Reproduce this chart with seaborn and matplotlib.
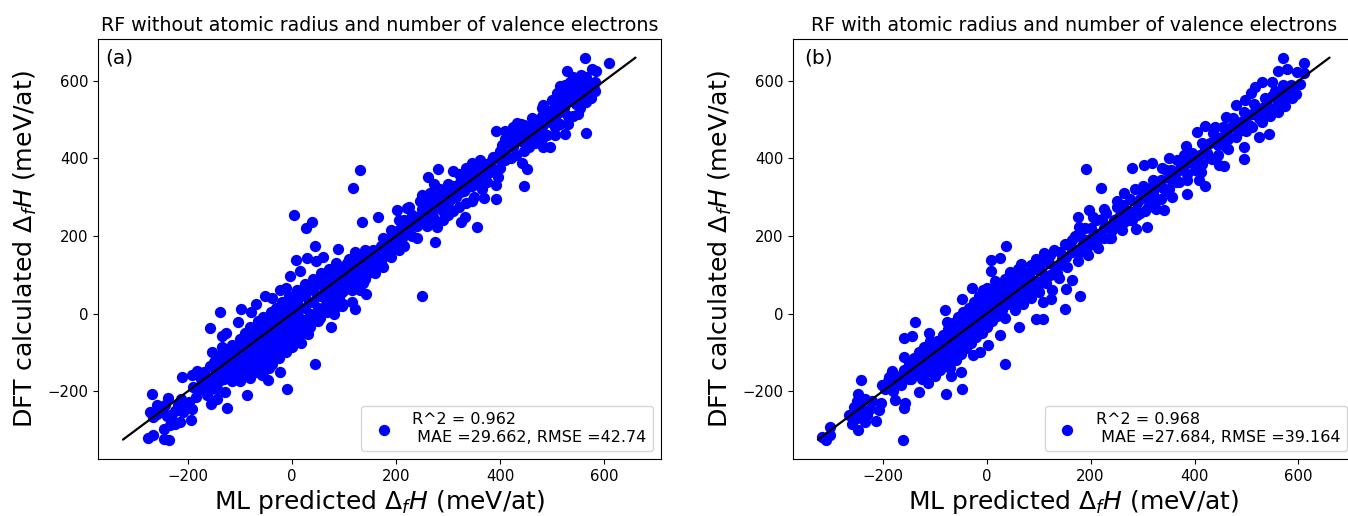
import matplotlib
matplotlib.use("Agg")
import matplotlib.pyplot as plt
import pandas as pd
import seaborn as sns

# (ML predicted, DFT calculated), meV/at
outliers_a = [
    (130, 371), (118, 324), (4, 253), (27, 221), (38, 235), (134, 237), (166, 248), (44, 175),
    (89, 166), (8, 138), (29, 144), (46, 136), (60, 147), (-4, 97), (15, 110), (-23, 61),
    (-12, 67), (-52, 45), (-39, 39), (-69, 24), (-78, 3), (-99, 11), (-138, 3), (-103, -23),
    (-158, -37), (-127, -50), (-135, -58), (-154, -98), (-134, -85), (-158, -134), (-212, -163),
    (-193, -158), (-183, -148), (-269, -207), (-238, -217), (-214, -220), (-260, -235),
    (-199, -229), (-193, -247), (-273, -253), (-267, -266), (-195, -274), (-215, -279),
    (-235, -261), (-246, -298), (-276, -322), (-267, -313), (-247, -323), (-236, -327),
    (-235, -287), (-174, -194), (-164, -211), (-155, -233), (-144, -221), (-126, -243),
    (-129, -201), (-86, -209), (-9, -194), (44, -129), (-46, -171), (-24, -151), (-58, -158),
    (-81, -167), (-100, -175), (-116, -175), (-131, -163), (-148, -171), (-29, -107), (-1, -85),
    (18, -75), (31, -53), (74, -35), (54, -12), (67, 7), (120, 11), (95, 20), (115, 31),
    (142, 50), (141, 89), (115, 61),
    (562, 659), (610, 645), (528, 626), (576, 630), (585, 626), (564, 466), (392, 470),
    (446, 329), (451, 372), (442, 387), (355, 224), (275, 185), (281, 374), (309, 367),
    (262, 353), (391, 295), (368, 297), (345, 291), (324, 237), (333, 250), (278, 224),
    (391, 331), (396, 353), (496, 430), (483, 430), (467, 439), (525, 464), (506, 460),
    (583, 573), (554, 530), (570, 593), (583, 598), (535, 598), (515, 587), (483, 537),
    (432, 492), (425, 482), (445, 486), (461, 505), (403, 434), (387, 404), (345, 387),
    (362, 396), (330, 355), (249, 306), (272, 334), (201, 267), (220, 271), (250, 45),
]
core_a = [
    (-190, -190), (-185, -215), (-175, -170), (-170, -150), (-160, -180), (-150, -125), (-150, -160),
    (-145, -195), (-140, -110), (-135, -140), (-130, -170), (-125, -95), (-125, -125), (-120, -150),
    (-115, -80), (-110, -110), (-110, -140), (-105, -170), (-100, -65), (-100, -95), (-100, -125),
    (-95, -150), (-90, -50), (-90, -80), (-85, -110), (-85, -135), (-80, -35), (-80, -65), (-75, -95),
    (-75, -125), (-70, -150), (-65, -20), (-65, -50), (-65, -80), (-60, -110), (-60, -135), (-55, -10),
    (-55, -40), (-50, -70), (-50, -95), (-45, -120), (-45, -140), (-40, 5), (-40, -25), (-40, -55),
    (-35, -80), (-35, -105), (-30, 15), (-30, -15), (-25, -45), (-25, -70), (-20, -95), (-20, 30),
    (-15, 0), (-15, -30), (-10, -60), (-10, -80), (-5, 45), (0, 15), (0, -15), (0, -45), (5, -65),
    (10, 60), (10, 30), (10, 0), (15, -30), (20, -50), (25, 75), (25, 45), (25, 15), (30, -15),
    (35, -35), (40, 90), (40, 60), (40, 30), (45, 0), (50, -20), (55, 105), (55, 75), (55, 45),
    (60, 15), (70, 115), (70, 85), (70, 55), (75, 25), (80, 0), (85, 130), (85, 100), (85, 70),
    (90, 40), (100, 120), (100, 90), (100, 60), (110, 140), (110, 105), (115, 75), (125, 150),
    (125, 120), (130, 90), (140, 135), (145, 105), (155, 165), (155, 130), (170, 175), (175, 145),
    (190, 195), (190, 165), (205, 215), (205, 185), (215, 240), (220, 205), (230, 255), (230, 225),
    (245, 240), (250, 270), (260, 285), (260, 250), (270, 265), (280, 300), (285, 275), (295, 315),
    (300, 285), (310, 330), (315, 300), (325, 345), (330, 315), (340, 360), (345, 330), (355, 375),
    (360, 345), (375, 385), (380, 365), (395, 400), (410, 450), (410, 415), (420, 465), (425, 430),
    (435, 470), (440, 445), (450, 480), (455, 455), (465, 495), (470, 470), (480, 510), (480, 480),
    (490, 520), (495, 495), (505, 535), (505, 505), (515, 550), (515, 520), (525, 570), (525, 540),
    (530, 510), (535, 585), (535, 555), (545, 595), (545, 570), (545, 540), (555, 600), (555, 565),
    (565, 580), (565, 545), (575, 590), (575, 555),
    (-250, -250), (-245, -235), (-225, -250), (-220, -235), (-210, -255), (-205, -240), (-230, -275),
    (-240, -265), (-260, -260), (-225, -285),
    (-180, -195), (-165, -165), (-155, -195), (-145, -145), (-140, -175), (-130, -120), (-128, -150),
    (-118, -105), (-118, -130), (-112, -165), (-105, -90), (-105, -115), (-98, -145), (-92, -65),
    (-92, -100), (-92, -130), (-88, -160), (-82, -50), (-82, -85), (-80, -120), (-78, -150), (-72, -35),
    (-72, -70), (-70, -100), (-68, -130), (-60, -30), (-60, -60), (-58, -90), (-55, -120), (-55, -150),
    (-48, -15), (-48, -50), (-45, -80), (-42, -105), (-38, -130), (-35, -5), (-33, -40), (-30, -65),
    (-28, -90), (-25, -115), (-22, 10), (-20, -20), (-18, -50), (-15, -75), (-12, -100), (-8, 20),
    (-5, -5), (-5, -35), (-3, -60), (3, 40), (5, 5), (5, -25), (8, -50), (15, 50), (15, 15), (18, -15),
    (22, -40), (30, 65), (32, 30), (35, 0), (38, -22), (47, 75), (48, 45), (50, 15), (52, -8), (62, 95),
    (62, 65), (65, 35), (68, 5), (78, 105), (78, 75), (80, 45), (82, 15), (92, 115), (92, 85), (95, 55),
    (98, 25), (105, 130), (107, 95), (108, 70), (118, 130), (120, 100), (122, 70), (132, 145), (134, 115),
    (136, 80), (148, 150), (150, 120), (162, 150), (165, 125), (180, 185), (182, 155), (197, 205),
    (198, 175), (212, 225), (212, 195), (225, 240), (222, 220), (238, 250), (240, 225), (255, 260),
    (255, 240), (268, 285), (270, 250), (288, 295), (290, 265), (305, 320), (305, 295), (320, 335),
    (320, 310), (335, 350), (335, 325), (350, 365), (350, 340), (365, 380), (368, 355), (385, 395),
    (388, 370), (400, 420), (402, 395), (418, 440), (428, 455), (442, 465), (448, 445), (460, 480),
    (462, 460), (475, 500), (475, 475), (488, 510), (500, 525), (500, 495), (510, 545), (520, 560),
    (522, 530), (530, 575), (540, 590), (540, 560), (550, 585), (550, 555), (560, 595), (560, 560),
    (570, 570), (580, 580),
    (230, 200), (240, 195), (260, 225), (275, 235), (290, 240), (300, 255), (310, 265), (320, 275),
    (335, 285), (350, 300), (365, 320), (375, 340), (300, 335), (285, 320), (265, 310), (320, 360),
    (335, 375), (245, 290), (225, 275), (400, 375), (410, 395), (420, 400), (430, 410), (445, 420),
    (455, 430), (470, 445), (480, 450), (490, 460), (505, 480), (515, 490), (530, 490), (540, 510),
    (550, 515), (410, 470), (440, 490), (480, 530), (500, 550), (510, 570), (525, 590), (540, 610),
    (555, 615), (565, 610),
    (175, 195), (190, 215), (205, 240), (170, 130), (190, 145), (205, 165), (215, 175), (120, 160),
    (140, 165), (130, 60), (160, 105), (175, 120),
]
outliers_b = [
    (570, 659), (611, 645), (560, 626), (578, 630), (597, 624), (544, 463), (495, 398), (456, 380),
    (447, 383), (464, 424), (433, 398), (421, 329), (413, 366), (408, 344), (385, 308), (357, 300),
    (341, 267), (191, 372), (220, 325), (280, 375), (303, 383), (318, 387), (197, 267), (175, 250),
    (177, 222), (308, 224), (287, 218), (165, 190), (290, 254), (383, 433), (405, 469), (421, 484),
    (525, 456), (495, 430), (573, 542), (603, 593), (587, 555), (549, 598), (479, 537), (539, 516),
    (530, 495),
    (38, 175), (8, 138), (26, 144), (8, 110), (-29, 65), (-7, 61), (66, 127), (44, 106), (-48, 37),
    (-80, 9), (-139, -22), (-160, -62), (-144, -57), (-112, -51), (-77, -22), (-160, -111),
    (-183, -148), (-189, -163), (-202, -184), (-243, -172), (-247, -207), (-234, -221), (-256, -240),
    (-203, -231), (-208, -248), (-266, -261), (-231, -261), (-213, -277), (-259, -284), (-248, -300),
    (-302, -293), (-301, -313), (-317, -319), (-309, -326), (-162, -326), (-176, -223), (-157, -231),
    (-160, -243), (-130, -201), (-114, -180), (-79, -208), (-47, -194), (-68, -161), (-50, -151),
    (36, -129), (-26, -107), (-13, -98), (3, -81), (26, -56), (63, -34), (95, -14), (108, -15),
    (151, 11), (124, 38), (108, 29), (153, 63), (165, 87), (140, 91), (35, -12), (180, 46),
]
core_b = [
    (-190, -175), (-180, -200), (-175, -160), (-165, -185), (-160, -145), (-150, -170), (-150, -130),
    (-140, -155), (-140, -115), (-130, -140), (-130, -100), (-125, -170), (-120, -125), (-120, -85),
    (-115, -150), (-110, -110), (-110, -70), (-105, -135), (-100, -95), (-100, -160), (-95, -120),
    (-90, -75), (-90, -145), (-85, -100), (-85, -55), (-80, -125), (-75, -80), (-75, -40), (-70, -105),
    (-70, -140), (-65, -60), (-65, -25), (-60, -90), (-60, -120), (-55, -45), (-55, -10), (-50, -75),
    (-50, -105), (-45, -30), (-45, 5), (-40, -60), (-40, -90), (-35, -15), (-35, 15), (-30, -45),
    (-30, -75), (-25, 0), (-25, 30), (-20, -30), (-20, -60), (-15, 15), (-15, 45), (-10, -15), (-10, -50),
    (-5, 30), (0, 0), (0, -35), (0, 65), (5, 45), (10, 15), (10, -20), (15, 60), (15, 85), (20, 30),
    (20, -5), (25, 70), (30, 45), (30, 10), (35, 90), (40, 60), (40, 25), (45, 105), (50, 75), (50, 40),
    (55, 10), (60, 115), (60, 90), (65, 55), (70, 25), (75, 105), (80, 70), (85, 125), (85, 40), (95, 85),
    (95, 140), (100, 55), (105, 110), (110, 155), (115, 80), (120, 130), (125, 60), (130, 165), (135, 105),
    (145, 140), (150, 180), (155, 120), (165, 160), (170, 200), (175, 135), (185, 180), (190, 220),
    (195, 150), (205, 200), (210, 240), (215, 170), (225, 220), (230, 260), (235, 195), (245, 240),
    (250, 275), (260, 215), (265, 260), (275, 295), (280, 240), (290, 285), (300, 310), (305, 265),
    (315, 325), (325, 290), (335, 345), (345, 315), (355, 370), (365, 340), (375, 390), (385, 360),
    (395, 415), (405, 390), (415, 440), (425, 415), (435, 465), (445, 435), (455, 480), (465, 450),
    (475, 505), (485, 470), (495, 520), (505, 485), (515, 540), (525, 505), (535, 555), (545, 530),
    (555, 575), (560, 545), (570, 590), (580, 560), (590, 580), (595, 565), (610, 620),
    (-250, -225), (-240, -245), (-225, -245), (-220, -225), (-250, -270), (-255, -265), (-235, -280),
    (-195, -195), (-180, -175), (-170, -170), (-160, -160), (-155, -150), (-145, -170), (-145, -135),
    (-135, -150), (-135, -120), (-125, -145), (-125, -115), (-115, -130), (-115, -100), (-105, -115),
    (-105, -85), (-95, -135), (-95, -100), (-95, -70), (-85, -125), (-85, -85), (-78, -105), (-78, -60),
    (-68, -120), (-68, -80), (-62, -45), (-58, -105), (-58, -70), (-48, -90), (-48, -55), (-48, -20),
    (-38, -75), (-38, -40), (-38, -5), (-28, -60), (-28, -30), (-28, 10), (-18, -45), (-18, -10), (-18, 25),
    (-8, -35), (-8, 0), (-8, 35), (3, -15), (3, 20), (3, 50), (12, -5), (12, 35), (22, 10), (22, 50),
    (32, 25), (32, 65), (42, 40), (42, 80), (52, 20), (52, 55), (52, 95), (62, 35), (62, 70), (62, 105),
    (72, 45), (72, 85), (82, 55), (82, 100), (92, 65), (92, 115), (102, 80), (102, 130), (112, 95),
    (112, 135), (122, 100), (122, 150), (132, 115), (142, 125), (142, 160), (152, 145), (160, 175),
    (172, 165), (180, 200), (192, 190), (200, 220), (212, 205), (222, 245), (232, 225), (242, 215),
    (255, 250), (262, 280), (272, 265), (285, 265), (295, 295), (310, 295), (320, 310), (330, 330),
    (340, 325), (350, 350), (362, 360), (370, 370), (380, 380), (392, 390), (400, 400), (410, 410),
    (420, 425), (430, 440), (440, 450), (452, 455), (462, 470), (470, 480), (480, 490), (490, 495),
    (500, 510), (510, 515), (520, 525), (530, 530), (540, 550), (550, 560), (565, 565), (575, 575),
    (585, 590),
    (180, 160), (195, 175), (210, 180), (225, 195), (240, 195), (250, 225), (265, 235), (275, 240),
    (295, 260), (310, 275), (325, 270), (335, 295), (350, 320), (370, 340), (385, 345), (400, 370),
    (415, 385), (430, 400), (445, 410), (460, 430), (480, 455), (500, 470), (510, 480), (530, 510),
    (545, 510), (560, 520), (575, 535), (590, 560), (205, 250), (225, 270), (250, 290), (265, 310),
    (285, 320), (300, 330), (320, 345), (345, 370), (350, 400), (366, 396), (337, 375), (380, 408),
    (440, 481), (460, 507), (508, 568), (530, 597), (517, 584), (498, 550),
]

line_ends = [-325, 660]
x_ticks = [-200, 0, 200, 400, 600]
y_ticks = [-200, 0, 200, 400, 600]
legend_a = "R^2 = 0.962\n MAE =29.662, RMSE =42.74"
legend_b = "R^2 = 0.968\n MAE =27.684, RMSE =39.164"
title_a = "RF without atomic radius and number of valence electrons"
title_b = "RF with atomic radius and number of valence electrons"

sns.set_style("ticks", rc={"axes.edgecolor": "black", "text.color": "black", "axes.labelcolor": "black",
                           "xtick.color": "black", "ytick.color": "black"})
plt.rcParams["font.family"] = ["DejaVu Sans"]
plt.rcParams["xtick.direction"] = "out"
plt.rcParams["ytick.direction"] = "out"


def panel(ax, outliers, core, title, tag, tag_x, legend_text):
    df = pd.DataFrame(outliers + core, columns=["pred", "dft"])
    sns.scatterplot(data=df, x="pred", y="dft", color="#0000ff", s=66, linewidth=0, alpha=1,
                    label=legend_text, ax=ax)
    sns.lineplot(x=line_ends, y=line_ends, color="black", linewidth=1.6, ax=ax)
    ax.set_xlim(-373, 709)
    ax.set_ylim(-375, 708)
    ax.set_xticks(x_ticks)
    ax.set_yticks(y_ticks)
    ax.tick_params(labelsize=10.7)
    ax.set_xlabel(r"ML predicted $\Delta_f H$ (meV/at)", fontsize=18, labelpad=3)
    ax.set_ylabel(r"DFT calculated $\Delta_f H$ (meV/at)", fontsize=18.2, labelpad=6)
    ax.set_title(title, fontsize=13.65, pad=6)
    ax.text(tag_x, 0.955, tag, transform=ax.transAxes, fontsize=14.5, va="center")
    ax.legend(loc="lower right", fontsize=11.5, frameon=True, scatterpoints=1)


fig = plt.figure(figsize=(13.48, 5.16), dpi=100)
ax_a = fig.add_axes([98 / 1348, 57 / 516, 563 / 1348, 420 / 516])
ax_b = fig.add_axes([793 / 1348, 57 / 516, 562 / 1348, 420 / 516])
panel(ax_a, outliers_a, core_a, title_a, "(a)", 0.012, legend_a)
panel(ax_b, outliers_b, core_b, title_b, "(b)", 0.02, legend_b)

fig.savefig("out.png", dpi=100)
